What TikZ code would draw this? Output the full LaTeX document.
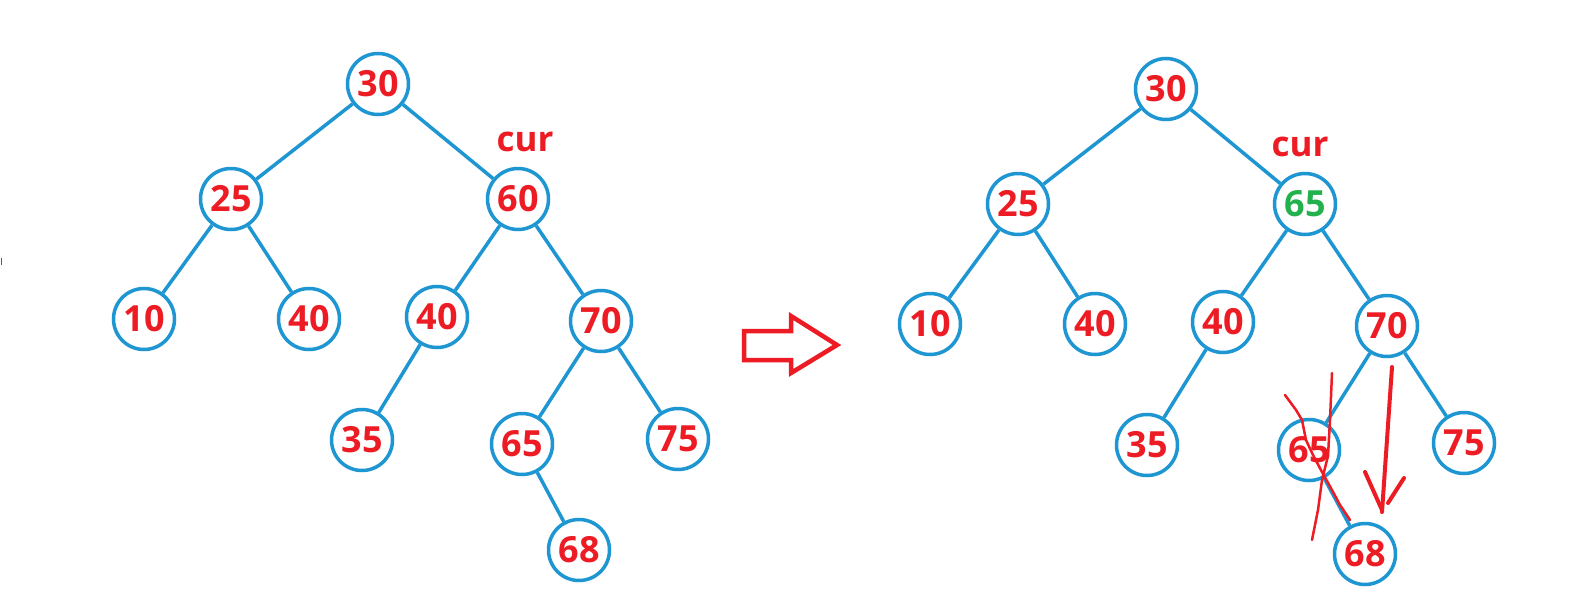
\documentclass[tikz,border=0pt]{standalone}
\usepackage{fontspec}
\setmainfont{Open Sans}[BoldFont={Open Sans Bold}]
\definecolor{treeblue}{RGB}{30,150,210}
\definecolor{txtred}{RGB}{237,28,36}
\definecolor{txtgreen}{RGB}{34,177,76}
\tikzset{
  tn/.style={circle, draw=treeblue, line width=3.5pt, minimum size=61pt, inner sep=0pt,
    text=txtred, font=\bfseries\fontsize{36}{36}\selectfont},
  ed/.style={draw=treeblue, line width=3.5pt},
  lbl/.style={text=txtred, font=\bfseries\fontsize{35}{35}\selectfont, inner sep=0pt},
  scrib/.style={draw=txtred, line width=2.5pt, line cap=round, line join=round},
  bigarrow/.style={draw=txtred, line width=4.5pt, line join=miter}
}
\begin{document}
\begin{tikzpicture}[x=1pt,y=-1pt]
\useasboundingbox (0,0) rectangle (1575,616);
\fill[white] (0,0) rectangle (1575,616);
\draw[gray!70!black, line width=1.2pt] (1.5,258) -- (1.5,265);
% left tree
\node[tn] (a30) at (378,84) {30};
\node[tn] (a25) at (231,199) {25};
\node[tn] (a60) at (518,199) {60};
\node[tn] (a10) at (144,319) {10};
\node[tn] (a40l) at (309,319) {40};
\node[tn] (a40r) at (437,317) {40};
\node[tn] (a70) at (601,321) {70};
\node[tn] (a35) at (362,440) {35};
\node[tn] (a65) at (522,444) {65};
\node[tn] (a75) at (678,439) {75};
\node[tn] (a68) at (579,550) {68};
\node[lbl] (acur) at (525,142) {cur};
\draw[ed] (a30) -- (a25);
\draw[ed] (a30) -- (a60);
\draw[ed] (a25) -- (a10);
\draw[ed] (a25) -- (a40l);
\draw[ed] (a60) -- (a40r);
\draw[ed] (a60) -- (a70);
\draw[ed] (a40r) -- (a35);
\draw[ed] (a70) -- (a65);
\draw[ed] (a70) -- (a75);
\draw[ed] (a65) -- (a68);
% arrow
\draw[bigarrow] (744,331) -- (791,331) -- (791,316) -- (837,345) -- (791,373) -- (791,360) -- (744,360) -- cycle;
% right tree
\node[tn] (b30) at (1166,89) {30};
\node[tn] (b25) at (1018,204) {25};
\node[tn, text=txtgreen] (b65top) at (1305,204) {65};
\node[tn] (b10) at (930,324) {10};
\node[tn] (b40l) at (1095,324) {40};
\node[tn] (b40r) at (1223,322) {40};
\node[tn] (b70) at (1387,326) {70};
\node[tn] (b35) at (1147,445) {35};
\node[tn] (b65) at (1309,450) {65};
\node[tn] (b75) at (1464,443) {75};
\node[tn] (b68) at (1365,554) {68};
\node[lbl] (bcur) at (1300,147) {cur};
\draw[ed] (b30) -- (b25);
\draw[ed] (b30) -- (b65top);
\draw[ed] (b25) -- (b10);
\draw[ed] (b25) -- (b40l);
\draw[ed] (b65top) -- (b40r);
\draw[ed] (b65top) -- (b70);
\draw[ed] (b40r) -- (b35);
\draw[ed] (b70) -- (b65);
\draw[ed] (b70) -- (b75);
\draw[ed] (b65) -- (b68);
% red scribbles
\draw[scrib] (1332,373) -- (1330,420) -- (1328,456) -- (1322,480) -- (1318,510) -- (1312,540);
\draw[scrib] (1285,395) -- (1296,410) -- (1302,420) -- (1306,440) -- (1313,455) -- (1322,472) -- (1332,490) -- (1340,505) -- (1350,520);
\draw[draw=txtred, line width=4pt, line cap=round] (1392,367) -- (1382,512);
\draw[draw=txtred, line width=4pt, line cap=round] (1365,472) -- (1382,510);
\draw[draw=txtred, line width=4pt, line cap=round] (1404,478) -- (1388,503);
\end{tikzpicture}
\end{document}
